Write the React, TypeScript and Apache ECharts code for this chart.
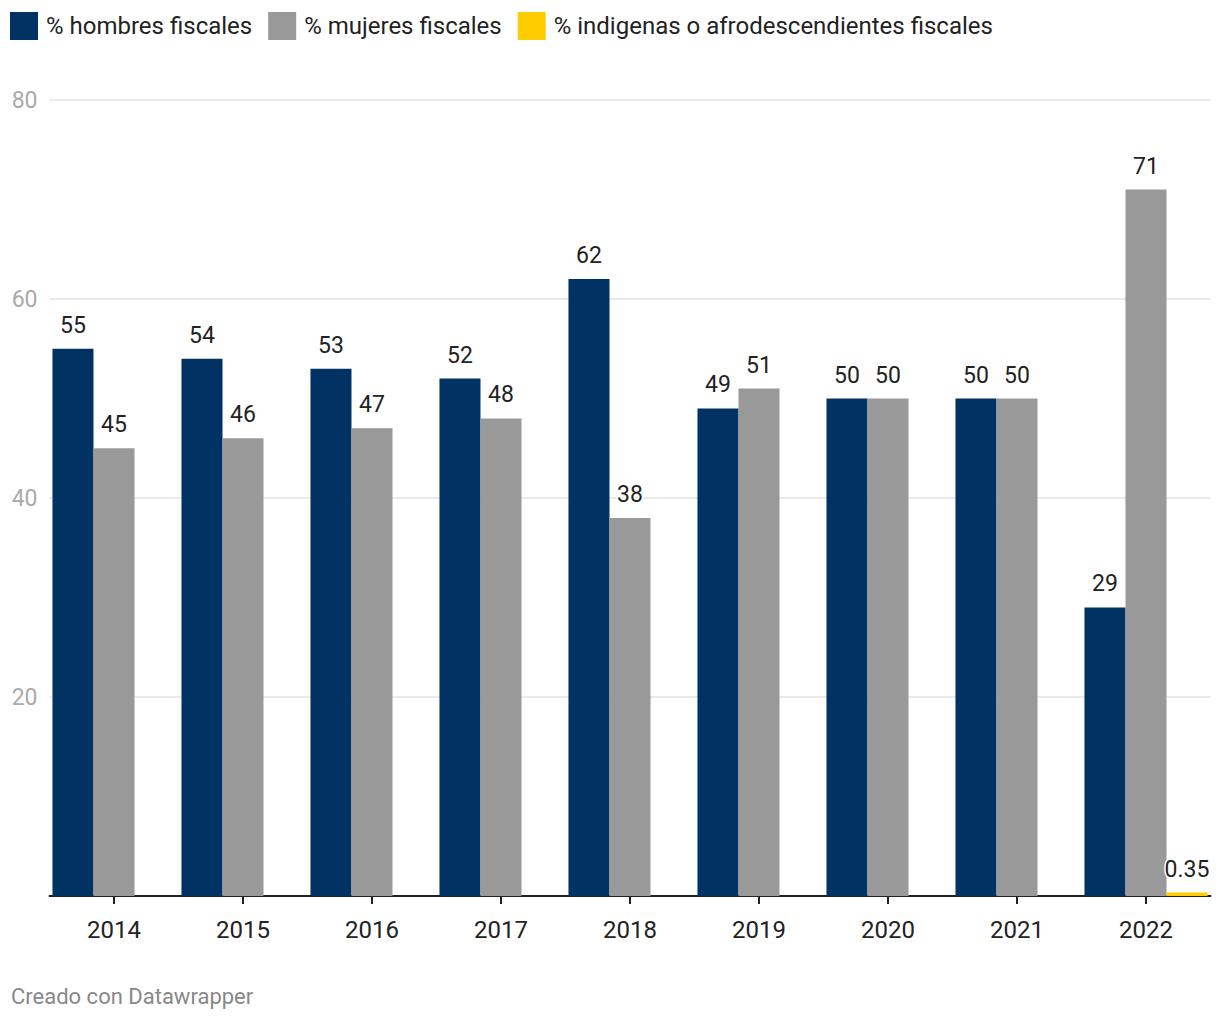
import React, { useEffect, useRef } from "react";
import * as echarts from "echarts";

const years = ["2014", "2015", "2016", "2017", "2018", "2019", "2020", "2021", "2022"];
const hombres = [55, 54, 53, 52, 62, 49, 50, 50, 29];
const mujeres = [45, 46, 47, 48, 38, 51, 50, 50, 71];
const indigenas: (number | null)[] = [null, null, null, null, null, null, null, null, 0.35];
const seriesNames = ["% hombres fiscales", "% mujeres fiscales", "% indigenas o afrodescendientes fiscales"];
const colors = ["#003363", "#999999", "#ffcc00"];
const yTicks = { min: 0, max: 80, interval: 20 };

const FONT = "Roboto, 'Noto Sans', sans-serif";

export default function App() {
  const ref = useRef<HTMLDivElement>(null);
  useEffect(() => {
    if (!ref.current) return;
    const chart = echarts.init(ref.current, undefined, { renderer: "svg" });
    const label = {
      show: true,
      position: "top" as const,
      distance: 12,
      fontSize: 23,
      fontFamily: FONT,
      color: "#222",
      textBorderColor: "#fff",
      textBorderWidth: 3,
      formatter: (p: any) => (p.value == null ? "" : String(p.value)),
    };
    const datasets = [hombres, mujeres, indigenas];
    chart.setOption({
      animation: false,
      textStyle: { fontFamily: FONT },
      legend: {
        left: 10,
        top: 12,
        padding: 0,
        itemWidth: 28,
        itemHeight: 28,
        itemGap: 16,
        icon: "rect",
        data: seriesNames,
        textStyle: { fontSize: 24, color: "#222", fontFamily: FONT, padding: [0, 0, 0, 3] },
      },
      grid: { left: 49.5, right: 9.5, top: 100, bottom: 124, containLabel: false },
      xAxis: {
        type: "category",
        data: years,
        axisLine: { lineStyle: { color: "#222", width: 2 } },
        axisTick: { show: true, alignWithLabel: true, length: 8, lineStyle: { color: "#222", width: 2 } },
        axisLabel: { fontSize: 24, color: "#222", margin: 22, fontFamily: FONT },
      },
      yAxis: {
        type: "value",
        min: yTicks.min,
        max: yTicks.max,
        interval: yTicks.interval,
        axisLine: { show: false },
        axisTick: { show: false },
        axisLabel: {
          fontSize: 23,
          color: "#aaa",
          margin: 12,
          fontFamily: FONT,
          formatter: (v: number) => (v === 0 ? "" : String(v)),
        },
        splitLine: { lineStyle: { color: "#e3e3e3", width: 1.5 } },
      },
      series: seriesNames.map((name, i) => ({
        name,
        type: "bar",
        data: datasets[i],
        barGap: "0%",
        barCategoryGap: "4.6%",
        itemStyle: { color: colors[i] },
        label,
      })),
      graphic: [
        {
          type: "text",
          left: 11,
          top: 985,
          style: { text: "Creado con Datawrapper", fontSize: 22, fill: "#888", fontFamily: FONT },
        },
      ],
    });
    return () => chart.dispose();
  }, []);
  return (
    <div
      ref={ref}
      style={{ position: "absolute", left: 0, top: 0, width: 1220, height: 1020, background: "#fff" }}
    />
  );
}
